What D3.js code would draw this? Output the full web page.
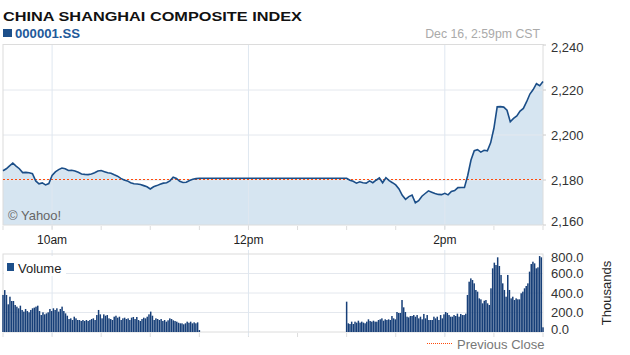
<!DOCTYPE html>
<html>
<head>
<meta charset="utf-8">
<script src="https://cdn.jsdelivr.net/npm/d3@7"></script>
<style>
  body { margin: 0; background: #fff; }
  svg { display: block; font-family: "Liberation Sans", Arial, sans-serif; }
</style>
</head>
<body>
<svg id="chart" width="630" height="355"></svg>
<script>
// price every 2 minutes, 9:30 -> 11:30 and 13:00 -> 15:00
const amPrice = [2184.1,2185.0,2186.3,2187.5,2186.2,2185.0,2183.3,2183.4,2183.2,2182.8,
  2179.6,2178.3,2178.7,2177.8,2178.4,2182.0,2183.6,2184.6,2185.3,2185.0,
  2184.2,2184.3,2184.0,2183.4,2182.7,2182.5,2182.4,2182.7,2183.2,2184.0,
  2184.2,2183.7,2183.2,2183.0,2182.3,2181.7,2180.7,2180.0,2179.6,2178.8,
  2178.3,2178.2,2178.0,2177.5,2177.0,2176.0,2177.0,2177.5,2178.1,2178.6,
  2178.8,2179.6,2181.2,2180.7,2179.4,2178.9,2179.0,2179.8,2180.3,2180.6,2180.8];
const pmPrice = [2180.8,2179.9,2179.4,2178.6,2179.2,2178.8,2178.6,2179.6,2178.8,2179.9,
  2180.9,2178.8,2181.0,2179.7,2178.8,2177.8,2176.0,2173.2,2171.4,2172.6,
  2173.3,2169.9,2170.8,2172.8,2174.0,2175.2,2174.6,2174.0,2173.6,2173.5,
  2174.1,2173.4,2174.9,2175.3,2176.6,2176.7,2176.7,2182.0,2188.9,2193.0,
  2193.5,2192.4,2193.2,2193.0,2196.5,2203.0,2212.5,2212.6,2212.4,2211.0,
  2205.9,2207.4,2208.5,2210.6,2211.8,2214.8,2218.2,2220.2,2222.8,2221.9,2223.8];
const prevClose = 2180.2;

// volume in thousands, spread evenly over each session
const amVolume = [380,430,380,284,362,318,318,277,260,243,270,226,209,236,215,202,226,243,250,260,
  270,215,174,202,181,191,202,236,215,243,226,243,209,236,260,215,191,167,133,140,
  123,157,140,123,123,113,123,113,123,113,123,133,140,123,174,226,181,140,181,167,
  174,140,133,123,157,167,147,157,123,140,147,133,140,123,147,154,133,154,123,113,
  133,147,140,157,181,209,167,123,140,133,123,133,113,123,106,120,140,133,120,113,
  106,95,89,89,79,89,106,95,106,89,99,89,99,20];
const pmVolume = [311,89,82,106,82,106,96,116,96,106,96,89,106,130,113,106,116,106,106,123,
  130,140,116,130,123,130,123,164,140,130,205,195,195,328,253,205,157,150,164,164,
  174,157,174,140,157,130,185,140,174,123,123,123,157,140,157,123,174,140,181,205,
  195,174,157,157,174,164,188,157,185,174,174,188,380,516,550,533,499,431,414,345,
  335,294,321,328,294,277,448,653,711,687,766,677,585,499,431,362,585,431,345,362,
  328,345,335,335,397,414,448,472,499,619,697,721,704,653,663,779,766,48];

const sessions = [["09:30", "11:30"], ["13:00", "15:00"]];
const hourLabels = ["10am", "12pm", "2pm"];
const hourTimes = ["10:00", "12:00", "14:00"];
const priceTicks = [2160, 2180, 2200, 2220, 2240];
const volumeTicks = [0, 200, 400, 600, 800];

const at = (s) => { const [h, m] = s.split(":"); return new Date(2013, 11, 16, +h, +m); };
const addMin = (d, m) => new Date(d.getTime() + m * 60000);

const svg = d3.select("#chart");
const left = 3, right = 543;
const pTop = 45, pBottom = 225, vTop = 254, vBottom = 332;

const x = d3.scaleTime().domain([at("09:30"), at("15:00")]).range([left, right]);
const y = d3.scaleLinear().domain([2160, 2240]).range([pBottom, pTop]);
const yv = d3.scaleLinear().domain([0, 800]).range([vBottom, vTop]);

const pricePts = [];
[amPrice, pmPrice].forEach((arr, s) => {
  const t0 = at(sessions[s][0]);
  arr.forEach((v, i) => pricePts.push({ t: addMin(t0, i * 2), v }));
});
const volBars = [];
[amVolume, pmVolume].forEach((arr, s) => {
  const t0 = at(sessions[s][0]), t1 = at(sessions[s][1]);
  const step = (t1 - t0) / 60000 / (arr.length - 1);
  arr.forEach((v, i) => volBars.push({ t: addMin(t0, i * step), v }));
});

// header
svg.append("text").attr("x", 3).attr("y", 21)
  .attr("textLength", 299).attr("lengthAdjust", "spacingAndGlyphs")
  .style("font-size", "12.8px").style("font-weight", "bold").style("fill", "#111")
  .text("CHINA SHANGHAI COMPOSITE INDEX");
svg.append("rect").attr("x", 3).attr("y", 29).attr("width", 9).attr("height", 8).attr("fill", "#1d4f8a");
svg.append("text").attr("x", 15).attr("y", 37.5)
  .attr("textLength", 65).attr("lengthAdjust", "spacingAndGlyphs")
  .style("font-size", "12px").style("font-weight", "bold").style("fill", "#22599a")
  .text("000001.SS");
svg.append("text").attr("x", 540).attr("y", 37.5).attr("text-anchor", "end")
  .style("font-size", "12.3px").style("fill", "#aaa")
  .text("Dec 16, 2:59pm CST");

// price panel
const area = d3.area().x(d => x(d.t)).y0(pBottom).y1(d => y(d.v));
svg.append("path").datum(pricePts).attr("d", area).attr("fill", "#d6e5f1");

const gridC = "#e4e8ee";
svg.append("g").selectAll("line").data(priceTicks.slice(1, -1)).join("line")
  .attr("x1", left).attr("x2", right).attr("y1", d => y(d)).attr("y2", d => y(d))
  .attr("stroke", gridC);
svg.append("g").selectAll("line").data(hourTimes).join("line")
  .attr("x1", d => x(at(d))).attr("x2", d => x(at(d))).attr("y1", pTop).attr("y2", pBottom + 4)
  .attr("stroke", "#dfe7f0");
svg.append("rect").attr("x", left).attr("y", pTop - 0.5).attr("width", right - left).attr("height", pBottom - pTop + 0.5)
  .attr("fill", "none").attr("stroke", "#dcdcdc");

svg.append("line").datum(prevClose)
  .attr("x1", left).attr("x2", right)
  .attr("y1", d => Math.round(y(d)) - 0.5).attr("y2", d => Math.round(y(d)) - 0.5)
  .attr("stroke", "#ff4a0a").attr("stroke-width", 1).attr("stroke-dasharray", "2,2");

const line = d3.line().x(d => x(d.t)).y(d => y(d.v));
svg.append("path").datum(pricePts).attr("d", line)
  .attr("fill", "none").attr("stroke", "#1b4e88").attr("stroke-width", 1.6);

svg.append("text").attr("x", 8).attr("y", 220).style("font-size", "13px").style("fill", "#666").text("\u00a9 Yahoo!");

// right axis, price
svg.append("g").selectAll("text").data(priceTicks).join("text")
  .attr("x", 551).attr("y", d => Math.min(221, Math.max(47, y(d))))
  .attr("dy", "0.36em").style("font-size", "13px").style("fill", "#333")
  .text(d => d3.format(",")(d));
svg.append("g").selectAll("line").data(priceTicks).join("line")
  .attr("x1", right).attr("x2", right + 3).attr("y1", d => y(d)).attr("y2", d => y(d)).attr("stroke", "#ccc");

// time ticks and labels
const halfHours = d3.timeMinute.every(30).range(at("09:30"), addMin(at("15:00"), 1));
[pBottom, vBottom].forEach(yb => {
  svg.append("g").selectAll("line").data(halfHours).join("line")
    .attr("x1", d => x(d)).attr("x2", d => x(d)).attr("y1", yb + 1).attr("y2", yb + 5)
    .attr("stroke", "#ddd");
});
svg.append("g").selectAll("text").data(hourLabels).join("text")
  .attr("x", (d, i) => x(at(hourTimes[i]))).attr("y", 244).attr("text-anchor", "middle")
  .style("font-size", "12px").style("fill", "#222").text(d => d);

// volume panel
svg.append("g").selectAll("line").data(volumeTicks.slice(1, -1)).join("line")
  .attr("x1", left).attr("x2", right).attr("y1", d => yv(d)).attr("y2", d => yv(d))
  .attr("stroke", gridC);
svg.append("g").selectAll("line").data(hourTimes).join("line")
  .attr("x1", d => x(at(d))).attr("x2", d => x(at(d))).attr("y1", vTop - 4).attr("y2", vBottom + 4)
  .attr("stroke", "#dfe7f0");
svg.append("rect").attr("x", left).attr("y", vTop).attr("width", right - left).attr("height", vBottom - vTop)
  .attr("fill", "none").attr("stroke", "#dcdcdc");

svg.append("g").selectAll("rect").data(volBars).join("rect")
  .attr("x", d => x(d.t) - 0.75).attr("width", 1.5)
  .attr("y", d => yv(d.v)).attr("height", d => vBottom - yv(d.v))
  .attr("fill", "#173f78");

svg.append("rect").attr("x", 4).attr("y", 256).attr("width", 62).attr("height", 20).attr("fill", "#fff");
svg.append("rect").attr("x", 7).attr("y", 263).attr("width", 7).attr("height", 8).attr("fill", "#1d4f8a");
svg.append("text").attr("x", 18).attr("y", 272.5).style("font-size", "13px").style("fill", "#222").text("Volume");

svg.append("g").selectAll("text").data(volumeTicks).join("text")
  .attr("x", 551).attr("y", d => Math.min(329, Math.max(257, yv(d))))
  .attr("dy", "0.36em").style("font-size", "13px").style("fill", "#333")
  .text(d => d3.format(".1f")(d));
svg.append("text").attr("transform", "translate(611,293) rotate(-90)").attr("text-anchor", "middle")
  .style("font-size", "13px").style("fill", "#222").text("Thousands");

// legend
svg.append("line").attr("x1", 427).attr("x2", 452).attr("y1", 343.5).attr("y2", 343.5)
  .attr("stroke", "#ff4a0a").attr("stroke-dasharray", "1,1");
svg.append("text").attr("x", 457).attr("y", 348.5).style("font-size", "13px").style("fill", "#777").text("Previous Close");
</script>
</body>
</html>
